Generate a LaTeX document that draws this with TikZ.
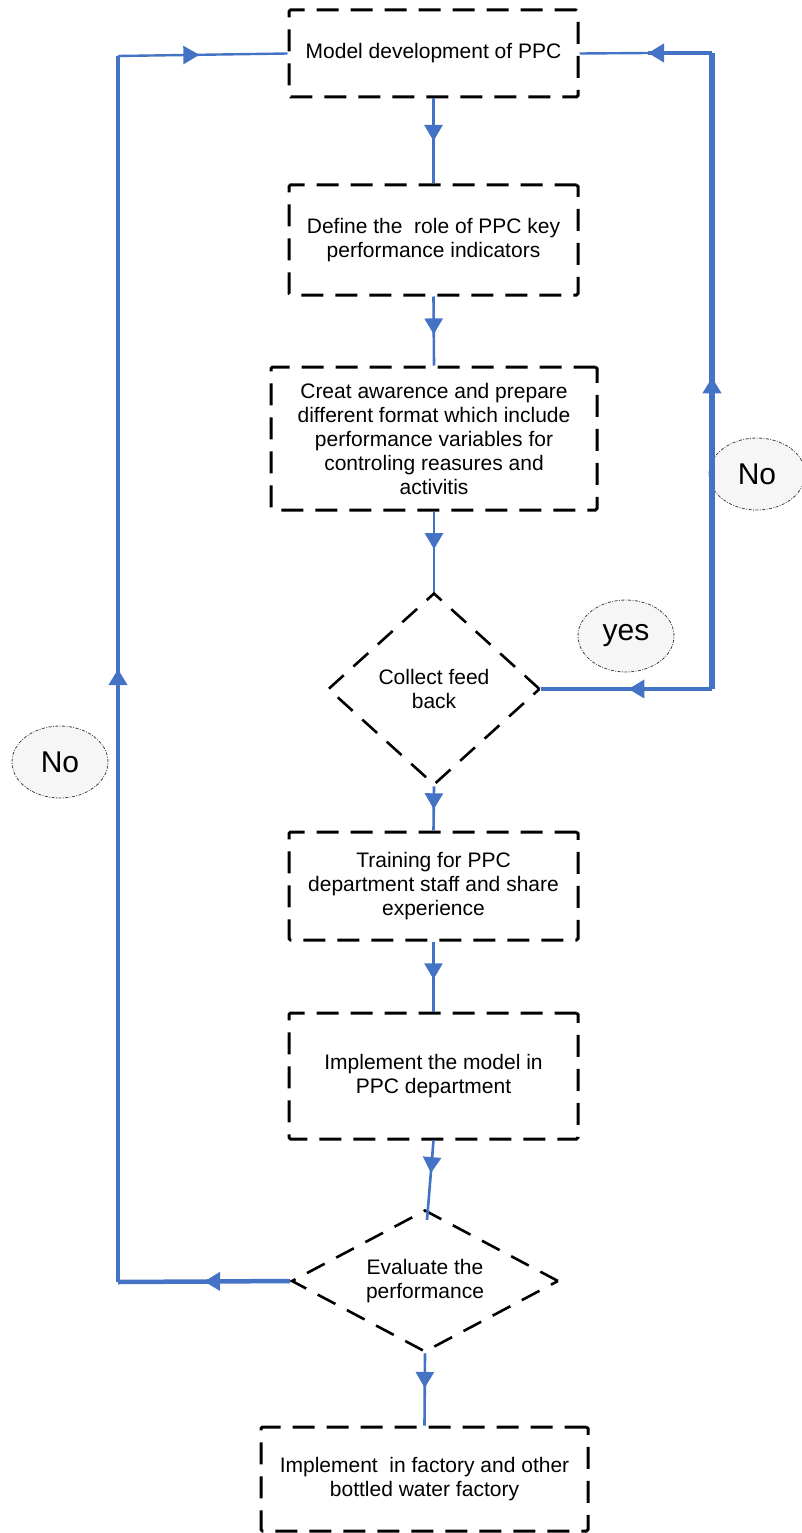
\documentclass[tikz,border=0pt]{standalone}
\usepackage{fontspec}
\setmainfont{Liberation Sans}
\usetikzlibrary{shapes.geometric,arrows.meta,decorations.markings}

\definecolor{flowblue}{HTML}{4472C4}
\definecolor{tagfill}{HTML}{F6F6F6}

\tikzset{
  stepbox/.style={draw=black, line width=3pt, dash pattern=on 22pt off 12pt,
    rounded corners=1.5pt, align=center, inner sep=0pt,
    font=\fontsize{21}{24}\selectfont},
  decision/.style={diamond, draw=black, line width=2.6pt, dash pattern=on 20pt off 13pt,
    align=center, inner sep=0pt, font=\fontsize{21}{24}\selectfont},
  tag/.style={ellipse, draw=black!75, fill=tagfill, line width=0.8pt,
    dash pattern=on 3pt off 1.5pt on 0.8pt off 1.5pt,
    minimum width=96pt, minimum height=72pt, inner sep=0pt,
    font=\fontsize{30}{34}\selectfont},
  flow/.style={draw=flowblue, line width=2.6pt},
  tipfwd/.style={postaction={decorate}, decoration={markings,
    mark=at position #1 with {\arrow{Triangle[length=16pt,width=18pt]}}}},
  tipback/.style={postaction={decorate}, decoration={markings,
    mark=at position #1 with {\arrowreversed{Triangle[length=16pt,width=18pt]}}}},
}

\begin{document}
\begin{tikzpicture}[x=1pt, y=-1pt]
  \useasboundingbox (0,0) rectangle (801,1533);

  % process steps
  \node[stepbox, minimum width=289pt, minimum height=87pt] (b1) at (433.5,53.5)
    {Model development of PPC};
  \node[stepbox, minimum width=289pt, minimum height=110pt] (b2) at (433.5,240)
    {Define the\ \ role of PPC key\\performance indicators};
  \node[stepbox, minimum width=326pt, minimum height=143pt] (b3) at (434,438.5)
    {Creat awarence and prepare\\different format which include\\performance variables for\\controling reasures and\\activitis};
  \node[decision, minimum width=212pt, minimum height=192pt, aspect=1.1] (d1) at (434,689)
    {Collect feed\\back};
  \node[stepbox, minimum width=289pt, minimum height=108pt] (b4) at (433.5,886)
    {Training for PPC\\department staff and share\\experience};
  \node[stepbox, minimum width=289pt, minimum height=126pt] (b5) at (433.5,1076)
    {Implement the model in\\PPC department};
  \node[decision, minimum width=267pt, minimum height=142pt, aspect=1.88] (d2) at (425,1281)
    {Evaluate the\\performance};
  \node[stepbox, minimum width=327pt, minimum height=104pt] (b6) at (424.5,1479)
    {Implement\ \ in factory and other\\bottled water factory};

  % decision tags
  \node[tag] (tno1) at (757,474) {No};
  \node[tag] (tyes) at (626,636) {yes};
  \node[tag] (tno2) at (60,762) {No};

  % main flow
  \draw[flow, tipfwd=0.50] (b1.south) -- (b2.north);
  \draw[flow, tipfwd=0.55] (b2.south) -- (b3.north);
  \draw[flow, tipfwd=0.47] (b3.south) -- (d1.north);
  \draw[flow, tipfwd=0.52] (d1.south) -- (b4.north);
  \draw[flow, tipfwd=0.54] (b4.south) -- (b5.north);
  \coordinate (d2in) at (427,1220);
  \draw[flow, tipfwd=0.41] (b5.south) -- (d2in);
  \draw[flow, tipfwd=0.48] (d2.south) -- (b6.north);

  % loop back from the evaluation
  \coordinate (lb) at (118,1282);
  \coordinate (lt) at (118,56);
  \draw[flow, line width=4.5pt, tipfwd=0.5] (d2.west) -- (lb);
  \draw[flow, line width=3.5pt, tipfwd=0.5] (lb) -- (lt);
  \draw[flow, line width=2.4pt, tipfwd=0.48] (lt) -- (b1.west);

  % loop back from the feedback
  \coordinate (rb) at (712,689);
  \coordinate (rt) at (712,53);
  \coordinate (rm) at (648,53);
  \draw[flow, line width=3.5pt, tipback=0.51] (d1.east) -- (rb);
  \draw[flow, line width=5.5pt, tipfwd=0.49] (rb) -- (rt);
  \draw[flow, line width=4.5pt, tipfwd=1] (rt) -- (rm);
  \draw[flow, line width=2.4pt] (rm) -- (b1.east);
\end{tikzpicture}
\end{document}
